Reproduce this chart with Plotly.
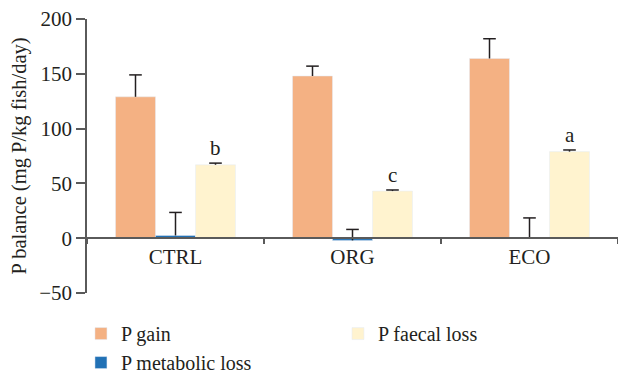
import plotly.graph_objects as go

categories = ["CTRL", "ORG", "ECO"]
p_gain = [129, 148, 164]
p_gain_err = [20, 9, 18]
p_metabolic = [2.5, -2, 0.5]
p_metabolic_err = [21, 10, 18]
p_faecal = [67, 43, 79]
p_faecal_err = [1.5, 1, 1.5]
letters = ["b", "c", "a"]
y_ticks = [-50, 0, 50, 100, 150, 200]

FONT = "Liberation Serif"
FS = 21
TXT = "#231f20"
AX = "#5a5a5a"
GAP = 0.322

series = [
    ("P gain", p_gain, p_gain_err, "#F4B183", 1),
    ("P metabolic loss", p_metabolic, p_metabolic_err, "#2171B5", 3),
    ("P faecal loss", p_faecal, p_faecal_err, "#FFF3CF", 2),
]

fig = go.Figure()
for i, (name, vals, errs, col, rank) in enumerate(series):
    fig.add_bar(x=categories, y=vals, name=name, marker_color=col, legendrank=rank,
                offsetgroup=str(i),
                error_y=dict(type="data", array=errs, arrayminus=[0] * len(errs),
                             symmetric=False, color=TXT, thickness=1.5, width=0))
for i, (name, vals, errs, col, rank) in enumerate(series):
    fig.add_scatter(x=categories, y=[v + e for v, e in zip(vals, errs)], mode="markers",
                    offsetgroup=str(i), showlegend=False, hoverinfo="skip",
                    marker=dict(symbol="line-ew", size=9, line=dict(color=TXT, width=1.5)))

for c, v, e, t in zip(categories, p_faecal, p_faecal_err, letters):
    fig.add_annotation(x=c, y=v + e, text=t, showarrow=False, xshift=40, yshift=1,
                       yanchor="bottom", font=dict(family=FONT, size=FS, color=TXT))

fig.update_layout(
    width=618, height=373,
    margin=dict(l=87, r=0, t=19, b=80, autoexpand=False),
    paper_bgcolor="white", plot_bgcolor="white",
    barmode="group", bargap=GAP, bargroupgap=0,
    scattermode="group", scattergap=GAP,
    font=dict(family=FONT, size=FS, color=TXT),
    showlegend=True,
    legend=dict(orientation="h", xref="container", yref="container",
                x=0.131, xanchor="left", y=0.158, yanchor="top",
                entrywidth=212, entrywidthmode="pixels", traceorder="normal",
                font=dict(family=FONT, size=20, color=TXT), bgcolor="rgba(0,0,0,0)"),
    xaxis=dict(anchor="free", position=0.2, showline=True, linecolor=AX, linewidth=1.5,
               ticks="outside", tickson="boundaries", ticklen=5, tickcolor=AX, tickwidth=1.5,
               showgrid=False, range=[-0.5, 2.5], tickfont=dict(size=FS, color=TXT)),
    yaxis=dict(range=[-50, 200], tickvals=y_ticks, showline=True, linecolor=AX, linewidth=1.5,
               ticks="outside", ticklen=9, tickcolor=AX, tickwidth=1.5, showgrid=False,
               ticklabelstandoff=0,
               zeroline=False, tickfont=dict(size=FS, color=TXT),
               title=dict(text="P balance (mg P/kg fish/day)", font=dict(size=20.5, color=TXT),
                          standoff=7)),
)

# remove the browser's default 8 px page margin so the figure sits at the window origin
fig.write_html("out.html", config={"displayModeBar": False},
               post_script="document.body.style.margin='0px';")
